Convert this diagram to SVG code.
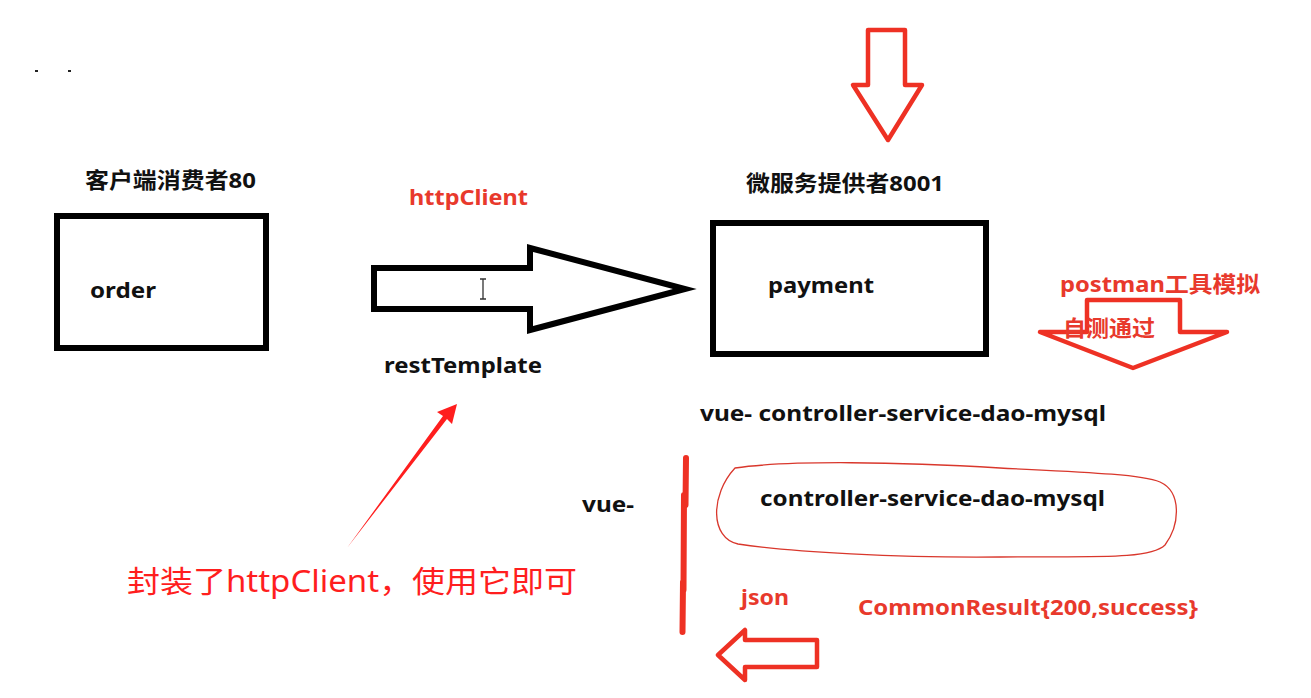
<svg xmlns="http://www.w3.org/2000/svg" width="1311" height="698" viewBox="0 0 1311 698">
<style>
.t{font-family:"Noto Sans","Open Sans","Noto Sans CJK SC",sans-serif;font-weight:bold;font-size:22px;fill:#111}
.r{fill:#e8392c}
.note{font-family:"Noto Sans","Noto Sans CJK SC",sans-serif;font-weight:normal;font-size:30px;fill:#ff1e1e}
.box{fill:#fff;stroke:#000;stroke-width:6}
.ra{fill:#fff;stroke:#ee3124;stroke-width:4.5;stroke-linejoin:round}
</style>
<rect width="1311" height="698" fill="#fff"/>
<rect x="35" y="70" width="3" height="2" fill="#222"/>
<rect x="68" y="70" width="3" height="2" fill="#222"/>

<g id="consumer">
<text class="t" x="85" y="188" textLength="171" lengthAdjust="spacingAndGlyphs">客户端消费者80</text>
<rect class="box" x="57" y="216" width="209" height="132"/>
<text class="t" x="90" y="298" textLength="66" lengthAdjust="spacingAndGlyphs">order</text>
</g>

<g id="provider">
<text class="t" x="746" y="191" textLength="198" lengthAdjust="spacingAndGlyphs">微服务提供者8001</text>
<rect class="box" x="713" y="223" width="273" height="131"/>
<text class="t" x="768" y="293" textLength="106" lengthAdjust="spacingAndGlyphs">payment</text>
</g>

<g id="connectors">
<polygon points="374,268 530,268 530,248 685,289 530,330 530,309 374,309" fill="#fff" stroke="#000" stroke-width="6" stroke-linejoin="miter"/>
<path d="M480 279h6M483 279v20M480 299h6" stroke="#333" stroke-width="1.3" fill="none"/>
<polygon class="ra" points="868,30 905,30 905,85 922,85 888,140 853,85 868,85"/>
<polygon class="ra" points="1087,300 1180,300 1180,332 1227,332 1133,368 1040,332 1087,332" style="fill:none"/>
<polygon class="ra" points="817,640 817,667 745,667 745,680 718,655 745,630 745,640"/>
<polygon points="347,548 447,419 452,424 457,404 437,412 443,416" fill="#ff1e1e"/>
<path d="M686 458L685.5 505M684 495L683.5 590M683 582L682.5 632" stroke="#ee3124" stroke-width="6" stroke-linecap="round" fill="none"/>
<path d="M735 468C790 460 900 462 1000 468C1080 472 1140 474 1160 482C1182 492 1180 525 1165 545C1150 560 1090 556 1000 557C900 558 790 552 738 544C710 538 710 495 735 468Z" fill="none" stroke="#d9372c" stroke-width="1.3"/>
</g>

<g id="labels">
<text class="t r" x="409" y="205" textLength="119" lengthAdjust="spacingAndGlyphs">httpClient</text>
<text class="t" x="384" y="373" textLength="158" lengthAdjust="spacingAndGlyphs">restTemplate</text>
<text class="t r" x="1060" y="292" textLength="200" lengthAdjust="spacingAndGlyphs">postman工具模拟</text>
<text class="t r" x="1063" y="336" textLength="92" lengthAdjust="spacingAndGlyphs">自测通过</text>
<text class="t" x="700" y="421" textLength="406" lengthAdjust="spacingAndGlyphs">vue- controller-service-dao-mysql</text>
<text class="t" x="582" y="512" textLength="52" lengthAdjust="spacingAndGlyphs">vue-</text>
<text class="t" x="760" y="506" textLength="345" lengthAdjust="spacingAndGlyphs">controller-service-dao-mysql</text>
<text class="t r" x="741" y="605" textLength="48" lengthAdjust="spacingAndGlyphs">json</text>
<text class="t r" x="858" y="615" textLength="340" lengthAdjust="spacingAndGlyphs">CommonResult{200,success}</text>
<text class="note" x="127" y="592" textLength="450" lengthAdjust="spacingAndGlyphs">封装了httpClient，使用它即可</text>
</g>
</svg>
